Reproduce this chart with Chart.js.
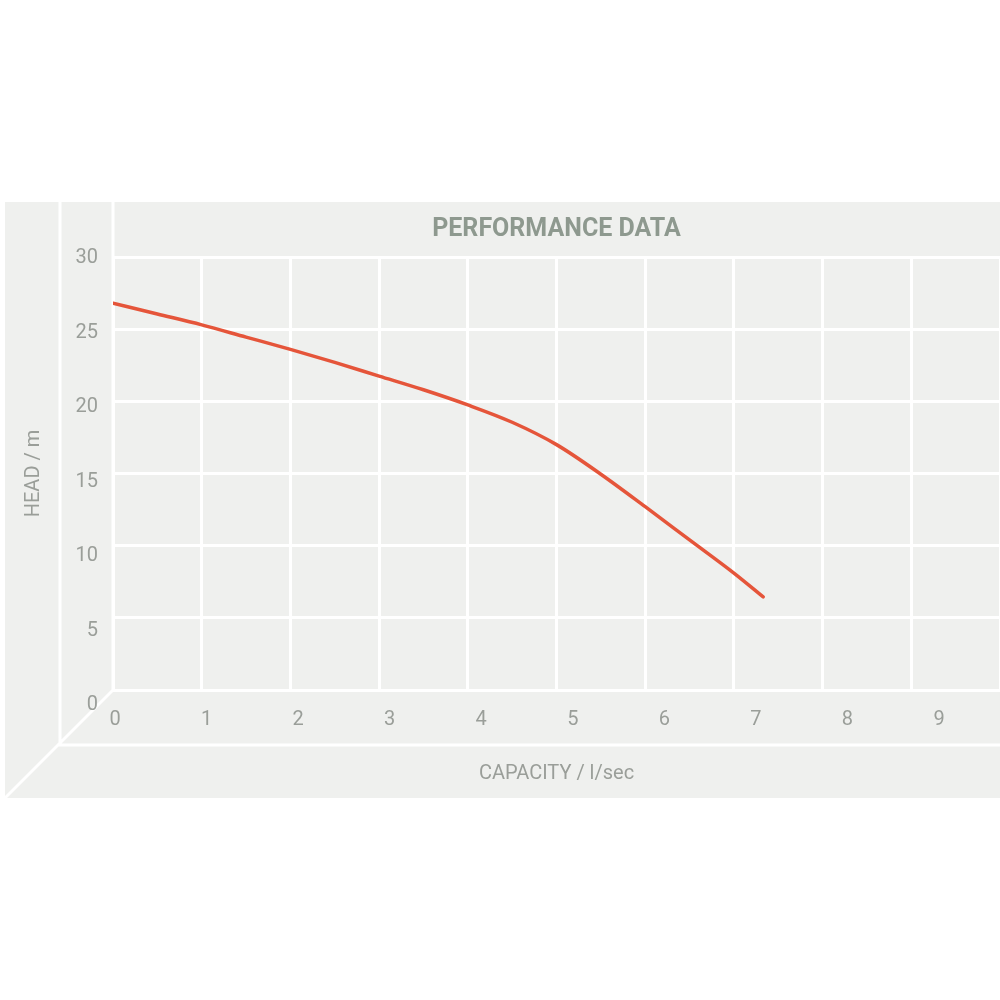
<!DOCTYPE html>
<html>
<head>
<meta charset="utf-8">
<script src="https://cdn.jsdelivr.net/npm/chart.js@4"></script>
<style>
  html, body { margin: 0; padding: 0; background: #fff; }
  canvas { display: block; }
</style>
</head>
<body>
<canvas id="chart" width="1000" height="1000"></canvas>
<script>
// Pump curve
const capacity = [0, 0.5, 1, 1.5, 2, 2.5, 3, 3.5, 4, 4.5, 5, 5.5, 6, 6.5, 7, 7.33];
const head = [26.8, 26.05, 25.3, 24.45, 23.6, 22.7, 21.75, 20.8, 19.75, 18.55, 17.0, 14.95, 12.7, 10.4, 8.1, 6.45];

const xTicks = [0, 1, 2, 3, 4, 5, 6, 7, 8, 9];
const yTicks = [0, 5, 10, 15, 20, 25, 30];

const PANEL = '#eff0ee';
const LINE = '#ffffff';
const TEXT = '#9a9e99';

// draws the "room" behind the grid: back wall, floor and the corner diagonal
const roomPlugin = {
  id: 'room',
  beforeDraw(chart) {
    const { ctx, chartArea: a } = chart;
    const panelTop = a.top - 55;
    const panelBottom = a.bottom + 108;
    const panelLeft = a.left - 108;
    const wallX = a.left - 53;
    const floorY = a.bottom + 55;
    ctx.save();
    ctx.fillStyle = PANEL;
    ctx.fillRect(panelLeft, panelTop, a.right - panelLeft, panelBottom - panelTop);
    ctx.strokeStyle = LINE;
    ctx.lineWidth = 3;
    ctx.beginPath();
    ctx.moveTo(wallX, panelTop);
    ctx.lineTo(wallX, floorY);
    ctx.lineTo(a.right, floorY);
    ctx.moveTo(a.left, panelTop);
    ctx.lineTo(a.left, a.bottom);
    ctx.moveTo(a.left, a.bottom);
    ctx.lineTo(panelLeft, panelBottom);
    ctx.stroke();
    ctx.restore();
  },
};

new Chart(document.getElementById('chart'), {
  type: 'line',
  data: {
    datasets: [{
      data: capacity.map((c, i) => ({ x: c, y: head[i] })),
      borderColor: '#e5553a',
      borderWidth: 3.5,
      borderCapStyle: 'round',
      pointRadius: 0,
      cubicInterpolationMode: 'monotone',
      fill: false,
    }],
  },
  options: {
    responsive: false,
    animation: false,
    layout: { padding: { top: 202, left: 5, right: 0, bottom: 202 } },
    plugins: {
      legend: { display: false },
      tooltip: { enabled: false },
      title: {
        display: true,
        text: 'PERFORMANCE DATA',
        fullSize: false,
        color: '#8e998f',
        font: { family: 'Roboto', size: 25, weight: 'bold' },
        padding: { top: 13, bottom: 12 },
      },
    },
    scales: {
      x: {
        type: 'linear',
        min: 0,
        max: 10,
        ticks: { display: false, stepSize: 1 },
        grid: { color: LINE, lineWidth: 3, drawTicks: false },
        border: { display: false },
        afterFit(s) { s.height = 0; },
      },
      y: {
        type: 'linear',
        min: 0,
        max: 30,
        ticks: { display: false, stepSize: 5 },
        grid: { color: LINE, lineWidth: 3, drawTicks: false },
        border: { display: false },
        afterFit(s) { s.width = 0; },
      },
      // label axes, shifted a little like the floor / wall perspective
      x2: {
        type: 'linear',
        position: 'bottom',
        min: -0.0218,
        max: 9.666,
        afterBuildTicks(s) { s.ticks = xTicks.map((v) => ({ value: v })); },
        ticks: { color: TEXT, font: { family: 'Roboto', size: 20 }, padding: 18, autoSkip: false },
        grid: { display: false, drawTicks: false },
        border: { display: false },
        title: {
          display: true,
          text: 'CAPACITY / l/sec',
          color: TEXT,
          font: { family: 'Roboto', size: 20 },
          padding: { top: 0, bottom: 12 },
        },
        afterFit(s) { s.height = 108; },
      },
      y2: {
        type: 'linear',
        position: 'left',
        min: 1.01,
        max: 30.07,
        afterBuildTicks(s) { s.ticks = yTicks.map((v) => ({ value: v })); },
        ticks: { color: TEXT, font: { family: 'Roboto', size: 20 }, padding: 15, autoSkip: false },
        grid: { display: false, drawTicks: false },
        border: { display: false },
        title: {
          display: true,
          text: 'HEAD / m',
          color: TEXT,
          font: { family: 'Roboto', size: 20 },
          padding: { top: 17, bottom: 0 },
        },
        afterFit(s) { s.width = 108; },
      },
    },
  },
  plugins: [roomPlugin],
});
</script>
</body>
</html>
